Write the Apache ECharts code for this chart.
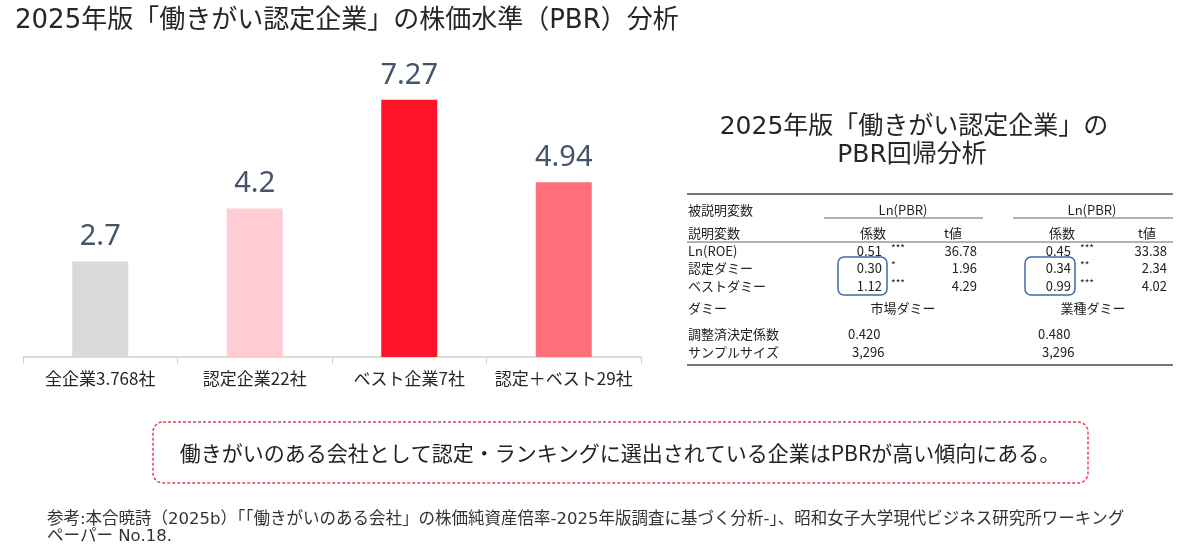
<!DOCTYPE html>
<html>
<head>
<meta charset="utf-8">
<script src="https://cdn.jsdelivr.net/npm/echarts@6/dist/echarts.min.js"></script>
<style>
  html, body { margin: 0; padding: 0; background: #fff; }
  #main { width: 1200px; height: 551px; }
</style>
</head>
<body>
<div id="main"></div>
<script type="text/javascript">
	// 棒グラフのデータ
	var categories = ['全企業3.768社', '認定企業22社', 'ベスト企業7社', '認定＋ベスト29社'];
	var pbrValues = [2.7, 4.2, 7.27, 4.94];
	var barColors = ['#d9d9d9', '#ffccd3', '#ff1428', '#ff6f7a'];

	// 回帰分析の表
	var regVars = ['Ln(ROE)', '認定ダミー', 'ベストダミー'];
	var coef1 = ['0.51', '0.30', '1.12'];
	var stars1 = ['***', '*', '***'];
	var tval1 = ['36.78', '1.96', '4.29'];
	var coef2 = ['0.45', '0.34', '0.99'];
	var stars2 = ['***', '**', '***'];
	var tval2 = ['33.38', '2.34', '4.02'];
	var dummies = ['市場ダミー', '業種ダミー'];
	var adjR2 = ['0.420', '0.480'];
	var sampleSize = ['3,296', '3,296'];

	var jp = '"Noto Sans CJK JP", sans-serif';
	var titleFont = '"DejaVu Sans", "Noto Sans CJK JP", sans-serif';

	function txt(x, y, s, opt) {
		opt = opt || {};
		return {
			type: 'text', x: x, y: y, silent: true,
			style: {
				text: s,
				fontFamily: opt.font || jp,
				fontSize: opt.size || 13,
				fill: opt.color || '#222',
				align: opt.align || 'left',
				verticalAlign: 'middle'
			}
		};
	}
	function hline(x1, x2, y, w, c) {
		return { type: 'line', silent: true, shape: { x1: x1, y1: y, x2: x2, y2: y }, style: { stroke: c || '#666', lineWidth: w || 1 } };
	}

	var g = [];
	// 右側タイトル
	g.push(txt(914, 127, '2025年版「働きがい認定企業」の', { size: 25, align: 'center', font: titleFont, color: '#262626' }));
	g.push(txt(912, 155, 'PBR回帰分析', { size: 25, align: 'center', font: titleFont, color: '#262626' }));
	// 表の罫線
	g.push(hline(687, 1173, 194, 2, '#777'));
	g.push(hline(824, 983, 218, 1, '#666'));
	g.push(hline(1013, 1173, 218, 1, '#666'));
	g.push(hline(687, 1173, 242, 1, '#666'));
	g.push(hline(687, 1173, 365, 2, '#777'));
	// 見出し
	g.push(txt(688, 210, '被説明変数'));
	g.push(txt(903, 210, 'Ln(PBR)', { align: 'center' }));
	g.push(txt(1092, 210, 'Ln(PBR)', { align: 'center' }));
	g.push(txt(688, 233, '説明変数'));
	g.push(txt(873, 233, '係数', { align: 'center' }));
	g.push(txt(953, 233, 't値', { align: 'center' }));
	g.push(txt(1062, 233, '係数', { align: 'center' }));
	g.push(txt(1147, 233, 't値', { align: 'center' }));
	// 係数の行
	var rowY = [251, 268, 286];
	for (var i = 0; i < regVars.length; i++) {
		var y = rowY[i];
		g.push(txt(688, y, regVars[i]));
		g.push(txt(882, y, coef1[i], { align: 'right' }));
		g.push(txt(891, y - 3, stars1[i], { size: 10 }));
		g.push(txt(977, y, tval1[i], { align: 'right' }));
		g.push(txt(1071, y, coef2[i], { align: 'right' }));
		g.push(txt(1080, y - 3, stars2[i], { size: 10 }));
		g.push(txt(1167, y, tval2[i], { align: 'right' }));
	}
	g.push(txt(688, 308, 'ダミー'));
	g.push(txt(903, 308, dummies[0], { align: 'center' }));
	g.push(txt(1093, 308, dummies[1], { align: 'center' }));
	g.push(txt(688, 334, '調整済決定係数'));
	g.push(txt(848, 334, adjR2[0]));
	g.push(txt(1038, 334, adjR2[1]));
	g.push(txt(688, 352, 'サンプルサイズ'));
	g.push(txt(852, 352, sampleSize[0]));
	g.push(txt(1042, 352, sampleSize[1]));
	// 青い枠
	g.push({ type: 'rect', silent: true, shape: { x: 838, y: 257, width: 49, height: 38, r: 6 }, style: { fill: 'none', stroke: '#3f6aa8', lineWidth: 1.5 } });
	g.push({ type: 'rect', silent: true, shape: { x: 1025, y: 257, width: 50, height: 38, r: 6 }, style: { fill: 'none', stroke: '#3f6aa8', lineWidth: 1.5 } });
	// まとめの枠
	g.push({ type: 'rect', silent: true, shape: { x: 153, y: 422, width: 935, height: 61, r: 10 }, style: { fill: 'none', stroke: '#e8414f', lineWidth: 1.5, lineDash: [3, 2] } });
	g.push(txt(620, 453, '働きがいのある会社として認定・ランキングに選出されている企業はPBRが高い傾向にある。', { size: 21, align: 'center', color: '#222' }));
	// 出典
	g.push(txt(47, 520, '参考:本合暁詩（2025b）「「働きがいのある会社」の株価純資産倍率-2025年版調査に基づく分析-」、昭和女子大学現代ビジネス研究所ワーキング', { size: 16.5, color: '#333', font: titleFont }));
	g.push(txt(47, 537, 'ペーパー No.18.', { size: 16.5, color: '#333', font: titleFont }));

	var myChart = echarts.init(document.getElementById('main'));
	var option = {
		animation: false,
		backgroundColor: '#fff',
		title: {
			text: '2025年版「働きがい認定企業」の株価水準（PBR）分析',
			left: 15,
			top: 8,
			padding: 0,
			textStyle: { fontFamily: titleFont, fontSize: 26, fontWeight: 'normal', color: '#262626' }
		},
		grid: { left: 23, right: 559, top: 74, bottom: 194 },
		xAxis: {
			type: 'category',
			data: categories,
			axisLine: { lineStyle: { color: '#d0d0d0', width: 1.5 } },
			axisTick: { show: true, length: 7, lineStyle: { color: '#d0d0d0' } },
			axisLabel: { margin: 13, fontSize: 17, color: '#262626', fontFamily: jp, interval: 0 }
		},
		yAxis: {
			type: 'value',
			min: 0,
			max: 8,
			show: false
		},
		series: [{
			type: 'bar',
			barWidth: 56,
			data: pbrValues.map(function (v, k) {
				return { value: v, itemStyle: { color: barColors[k] } };
			}),
			label: {
				show: true,
				position: 'top',
				distance: 10,
				fontFamily: '"Noto Sans", sans-serif',
				fontSize: 29,
				color: '#44546a'
			}
		}],
		graphic: g
	};
	myChart.setOption(option);
</script>
</body>
</html>
